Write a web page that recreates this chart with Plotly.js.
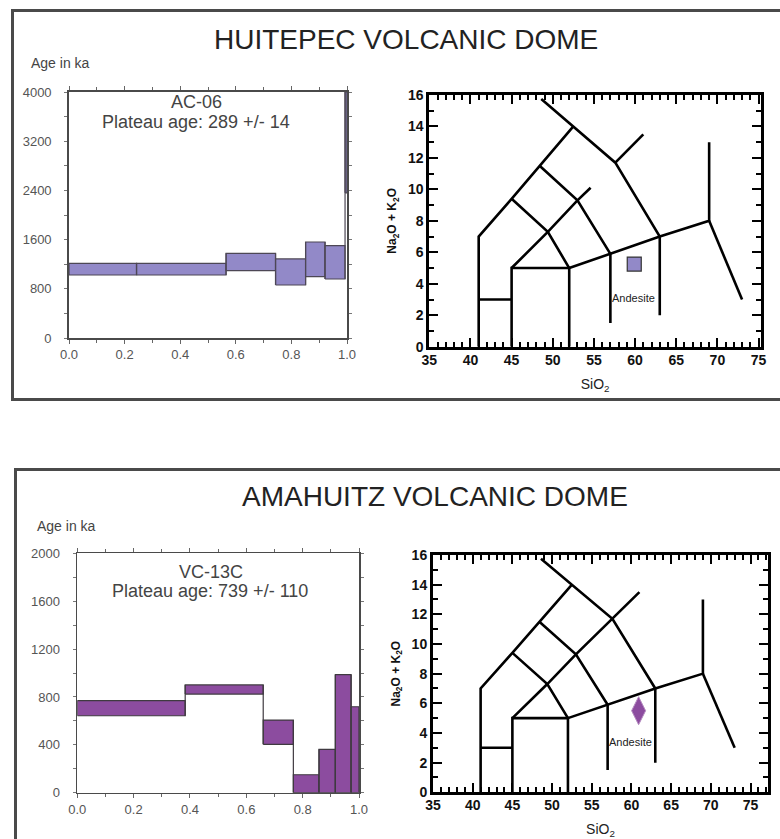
<!DOCTYPE html>
<html>
<head>
<meta charset="utf-8">
<script src="https://cdn.plot.ly/plotly-3.0.1.min.js"></script>
<style>html,body{margin:0;padding:0;background:#fff;}#chart{width:780px;height:839px;}</style>
</head>
<body>
<div id="chart"></div>
<script>
// ---------- DATA ----------
// Ar-Ar step heating spectra (x = cumulative 39Ar fraction released, y = age in ka)
const ac06FracEdges = [0, 0.243, 0.565, 0.743, 0.851, 0.921, 0.993, 1.0];
const ac06AgeHigh   = [1215, 1215, 1377, 1285, 1561, 1501, 4000];
const ac06AgeLow    = [1024, 1024, 1094, 862, 997, 959, 2360];

const vc13cFracEdges = [0, 0.383, 0.660, 0.767, 0.858, 0.916, 0.972, 1.0];
const vc13cAgeHigh   = [769, 900, 607, 150, 362, 986, 718];
const vc13cAgeLow    = [643, 824, 404, 0, 0, 0, 0];

// TAS classification field boundaries (SiO2 vs Na2O+K2O), segments separated by null
const tasFieldSiO2 = [41, 41, 45, 48.4, 52.5, null,
                      48.6, 52.5, 57.6, 63, 63, null,
                      41, 45, null,
                      45, 45, 52, 52, null,
                      52, 57, 63, 69, 69, null,
                      69, 73, null,
                      57, 57, null,
                      45, 49.4, 52, null,
                      48.4, 53, 57];
const tasFieldAlk  = [0, 7, 9.4, 11.5, 14, null,
                      15.75, 14, 11.7, 7, 2, null,
                      3, 3, null,
                      0, 5, 5, 0, null,
                      5, 5.9, 7, 8, 13, null,
                      8, 3, null,
                      1.5, 5.9, null,
                      9.4, 7.3, 5, null,
                      11.5, 9.3, 5.9];
// boundary pieces as drawn in each of the two diagrams
const tasTopExtraSiO2 = [45, 49.4, 53, 54.6, null, 57.6, 61];
const tasTopExtraAlk  = [5, 7.3, 9.3, 10.1, null, 11.7, 13.5];
const tasBotExtraSiO2 = [45, 49.4, 53, 57.6, 61];
const tasBotExtraAlk  = [5, 7.3, 9.3, 11.7, 13.5];

// Samples on the TAS diagram
const ac06SiO2 = [59.9];
const ac06Alk  = [5.25];
const vc13cSiO2 = [60.9];
const vc13cAlk  = [5.5];

// Text
const panelTitles = ['HUITEPEC VOLCANIC DOME', 'AMAHUITZ VOLCANIC DOME'];
const sampleNames = ['AC-06', 'VC-13C'];
const plateauTexts = ['Plateau age: 289 +/- 14', 'Plateau age: 739 +/- 110'];

// ---------- HELPERS ----------
const W = 780, H = 839;
const px = x => x / W;
const py = y => 1 - y / H;
const FONT = 'Arial, "Liberation Sans", sans-serif';

function spectrumTraces(edges, hi, lo, xa, ya, fill, edge) {
  const traces = [];
  for (let i = 0; i < hi.length; i++) {
    const x0 = edges[i], x1 = edges[i + 1];
    traces.push({
      type: 'scatter', mode: 'lines', xaxis: xa, yaxis: ya,
      x: [x0, x1, x1, x0, x0], y: [lo[i], lo[i], hi[i], hi[i], lo[i]],
      fill: 'toself', fillcolor: fill, line: {color: edge, width: 1.2},
      hoverinfo: 'skip', showlegend: false
    });
  }
  const cx = [], cy = [];
  for (let i = 1; i < hi.length; i++) {
    cx.push(edges[i], edges[i], null);
    cy.push(Math.min(lo[i - 1], lo[i]), Math.max(hi[i - 1], hi[i]), null);
  }
  traces.push({type: 'scatter', mode: 'lines', xaxis: xa, yaxis: ya, x: cx, y: cy,
    line: {color: edge, width: 1.2}, hoverinfo: 'skip', showlegend: false});
  return traces;
}

function tasTraces(xa, ya, extraX, extraY) {
  const ln = {color: '#000', width: 2.6};
  return [
    {type: 'scatter', mode: 'lines', xaxis: xa, yaxis: ya, x: tasFieldSiO2, y: tasFieldAlk,
     line: ln, connectgaps: false, hoverinfo: 'skip', showlegend: false},
    {type: 'scatter', mode: 'lines', xaxis: xa, yaxis: ya, x: extraX, y: extraY,
     line: ln, connectgaps: false, hoverinfo: 'skip', showlegend: false}
  ];
}

const TOPFILL = '#9289c8', BOTFILL = '#8c4c9f';

const traces = [].concat(
  spectrumTraces(ac06FracEdges, ac06AgeHigh, ac06AgeLow, 'x', 'y', TOPFILL, '#4d4755'),
  tasTraces('x2', 'y2', tasTopExtraSiO2, tasTopExtraAlk),
  [{type: 'scatter', mode: 'markers', xaxis: 'x2', yaxis: 'y2', x: ac06SiO2, y: ac06Alk,
    marker: {symbol: 'square', size: 14, color: TOPFILL, line: {color: '#333', width: 1.2}},
    showlegend: false}],
  spectrumTraces(vc13cFracEdges, vc13cAgeHigh, vc13cAgeLow, 'x3', 'y3', BOTFILL, '#3f3a40'),
  tasTraces('x4', 'y4', tasBotExtraSiO2, tasBotExtraAlk),
  [{type: 'scatter', mode: 'markers', xaxis: 'x4', yaxis: 'y4', x: vc13cSiO2, y: vc13cAlk,
    marker: {symbol: 'diamond-tall', size: 20, color: BOTFILL, line: {color: '#b58cc0', width: 1}},
    showlegend: false}]
);

function ageXAxis(domain, anchor) {
  return {domain: domain, anchor: anchor, range: [0, 1], tick0: 0, dtick: 0.2, tickformat: '.1f',
    ticks: 'outside', ticklen: 4, tickcolor: '#666', tickwidth: 1,
    minor: {dtick: 0.1, ticks: 'outside', ticklen: 3, tickcolor: '#666'},
    showline: true, linecolor: '#4a4a4a', linewidth: 1.6, mirror: 'ticks',
    showgrid: false, zeroline: false, fixedrange: true,
    ticklabelstandoff: 0,
    tickfont: {family: FONT, size: 13, color: '#555'}};
}
function ageYAxis(domain, anchor, top, step) {
  return {domain: domain, anchor: anchor, range: [0, top], tick0: 0, dtick: step,
    ticks: 'outside', ticklen: 3, tickcolor: '#777', tickwidth: 1,
    minor: {dtick: step / 2, ticks: 'outside', ticklen: 3, tickcolor: '#777'},
    showline: true, linecolor: '#4a4a4a', linewidth: 1.8, mirror: 'ticks',
    showgrid: false, zeroline: false, fixedrange: true,
    ticklabelstandoff: 10,
    tickfont: {family: FONT, size: 13, color: '#555'}};
}
function tasXAxis(domain, anchor, range) {
  return {domain: domain, anchor: anchor, range: range, tick0: 35, dtick: 5,
    ticks: 'inside', ticklen: 9, tickwidth: 2, tickcolor: '#000',
    minor: {dtick: 1, ticks: 'inside', ticklen: 5, tickwidth: 2, tickcolor: '#000'},
    showline: true, linecolor: '#000', linewidth: 3, mirror: 'ticks',
    showgrid: false, zeroline: false, fixedrange: true,
    ticklabelstandoff: -2,
    tickfont: {family: FONT, size: 14, color: '#111', weight: 'bold'},
    title: {text: 'SiO<sub>2</sub>', standoff: 13, font: {family: FONT, size: 14, color: '#222'}}};
}
function tasYAxis(domain, anchor) {
  return {domain: domain, anchor: anchor, range: [0, 16], tick0: 0, dtick: 2,
    ticks: 'inside', ticklen: 9, tickwidth: 2, tickcolor: '#000',
    minor: {dtick: 1, ticks: 'inside', ticklen: 5, tickwidth: 2, tickcolor: '#000'},
    showline: true, linecolor: '#000', linewidth: 3, mirror: 'ticks',
    showgrid: false, zeroline: false, fixedrange: true,
    tickfont: {family: FONT, size: 14, color: '#111', weight: 'bold'},
    title: {text: 'Na<sub>2</sub>O + K<sub>2</sub>O', standoff: 9, font: {family: FONT, size: 12, color: '#111', weight: 'bold'}}};
}

const annFont = (s, c) => ({family: FONT, size: s, color: c || '#333'});
const ann = (text, x, y, size, color, xref, yref) => ({
  text: text, xref: xref || 'paper', yref: yref || 'paper', x: x, y: y,
  xanchor: 'center', yanchor: 'middle', showarrow: false, font: annFont(size, color)
});
const annotations = [
  ann(panelTitles[0], px(406), py(40), 28, '#222'),
  ann(panelTitles[1], px(435), py(496.5), 28, '#222'),
  ann('Age in ka', px(60.5), py(63), 14, '#444'),
  ann('Age in ka', px(66.5), py(526), 14, '#444'),
  ann(sampleNames[0], px(196), py(102), 18, '#444'),
  ann(plateauTexts[0], px(196), py(121.5), 18, '#444'),
  ann(sampleNames[1], px(211), py(572), 18, '#444'),
  ann(plateauTexts[1], px(210), py(590.5), 18, '#444'),
  ann('Andesite', 59.8, 3.08, 11, '#222', 'x2', 'y2'),
  ann('Andesite', 59.9, 3.37, 11, '#222', 'x4', 'y4')
];

const layout = {
  width: W, height: H,
  margin: {l: 0, r: 0, t: 0, b: 0},
  paper_bgcolor: '#fff', plot_bgcolor: 'rgba(0,0,0,0)',
  showlegend: false,
  font: {family: FONT},
  xaxis: ageXAxis([px(69), px(347)], 'y'),
  yaxis: ageYAxis([py(338), py(92)], 'x', 4000, 800),
  xaxis2: tasXAxis([px(429.3), px(761)], 'y2', [35, 75.3]),
  yaxis2: tasYAxis([py(346.7), py(95)], 'x2'),
  xaxis3: ageXAxis([px(77.3), px(359)], 'y3'),
  yaxis3: ageYAxis([py(792.7), py(553.3)], 'x3', 2000, 400),
  xaxis4: tasXAxis([px(433), px(768)], 'y4', [35, 77.2]),
  yaxis4: tasYAxis([py(792.3), py(555)], 'x4'),
  annotations: annotations,
  shapes: [
    {type: 'rect', xref: 'paper', yref: 'paper', x0: px(12.5), x1: 1.05, y0: py(399.5), y1: py(10.5),
     line: {color: '#4a4a4a', width: 3}, fillcolor: 'rgba(0,0,0,0)'},
    {type: 'rect', xref: 'paper', yref: 'paper', x0: px(15.5), x1: 1.05, y0: -0.05, y1: py(469.5),
     line: {color: '#4a4a4a', width: 3}, fillcolor: 'rgba(0,0,0,0)'}
  ]
};

Plotly.newPlot('chart', traces, layout, {staticPlot: true, displayModeBar: false});
</script>
</body>
</html>
